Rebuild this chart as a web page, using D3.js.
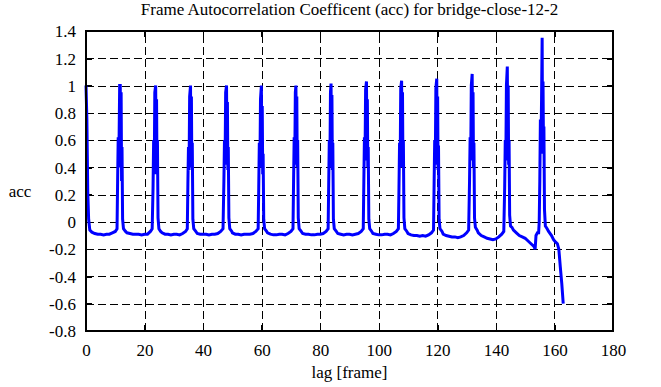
<!DOCTYPE html>
<html>
<head>
<meta charset="utf-8">
<script src="https://cdn.jsdelivr.net/npm/d3@7"></script>
<style>
  body { margin: 0; background: #fff; }
  svg text { font-family: "Liberation Serif", "Times New Roman", serif; fill: #000; }
</style>
</head>
<body>
<div id="chart"></div>
<script>
// lag [frame] and acc values, peak by peak
var lag = [
  0, 0.3, 0.6, 0.9, 1.3, 2, 3, 4, 5, 6, 7, 8, 9, 10, 10.6,
  10.8, 11.0, 11.2, 11.5, 11.7, 11.85, 12.0, 12.15, 12.3, 12.5, 12.8,
  13.5, 14, 15, 16, 17, 18, 19, 20, 21, 22, 22.6,
  22.9, 23.1, 23.3, 23.5, 23.8, 23.95, 24.1, 24.25, 24.4, 24.6, 24.9,
  25.5, 26, 27, 28, 29, 30, 31, 32, 33, 34, 34.6,
  34.8, 35.0, 35.2, 35.4, 35.7, 35.85, 36.0, 36.15, 36.3, 36.5, 36.8,
  37.5, 38, 39, 40, 41, 42, 43, 44, 45, 46, 46.8,
  47.1, 47.3, 47.5, 47.7, 48.0, 48.15, 48.3, 48.45, 48.6, 48.8, 49.1,
  49.8, 50, 51, 52, 53, 54, 55, 56, 57, 58, 58.8,
  59.0, 59.2, 59.4, 59.6, 59.9, 60.05, 60.2, 60.35, 60.5, 60.7, 61.0,
  61.7, 62, 63, 64, 65, 66, 67, 68, 69, 70, 70.7,
  70.9, 71.1, 71.3, 71.5, 71.7, 71.85, 72.0, 72.15, 72.3, 72.5, 72.8,
  73.5, 74, 75, 76, 77, 78, 79, 80, 81, 82, 82.7,
  82.9, 83.1, 83.3, 83.5, 83.7, 83.85, 84.0, 84.15, 84.3, 84.5, 84.8,
  85.5, 86, 87, 88, 89, 90, 91, 92, 93, 94, 94.7,
  94.9, 95.1, 95.3, 95.5, 95.8, 95.95, 96.1, 96.25, 96.4, 96.6, 96.9,
  97.6, 98, 99, 100, 101, 102, 103, 104, 105, 106, 106.7,
  106.9, 107.1, 107.3, 107.5, 107.8, 107.95, 108.1, 108.25, 108.4, 108.6, 108.9,
  109.6, 110, 111, 112, 113, 114, 115, 116, 117, 118, 118.7,
  118.9, 119.1, 119.3, 119.5, 119.8, 119.95, 120.1, 120.25, 120.4, 120.6, 120.9,
  121.6, 122, 123, 124, 125, 126, 127, 128, 129, 130, 130.7,
  131.0, 131.2, 131.4, 131.6, 131.9, 132.05, 132.2, 132.35, 132.5, 132.7, 133.0,
  133.6, 134, 135, 136, 137, 138, 139, 140, 141, 142, 142.7,
  143.0, 143.2, 143.4, 143.6, 143.9, 144.05, 144.2, 144.35, 144.5, 144.7, 145.0,
  145.5, 146, 147, 148, 149, 150, 151, 152, 153, 153.4, 153.7, 154.2, 154.6,
  154.8, 155.0, 155.2, 155.4, 155.6, 155.8, 155.95, 156.1, 156.25, 156.4, 156.6, 156.9,
  157.5, 158, 159, 159.7, 160.5, 161, 161.5, 162, 162.5, 163.0
];
var acc = [
  1.00, 0.75, 0.22, 0.02, -0.06, -0.075, -0.085, -0.09, -0.09, -0.095, -0.09, -0.09, -0.08, -0.07, -0.05,
  0.30, 0.62, 0.40, 1.00, 1.00, 0.50, 0.95, 0.30, 0.55, 0.02, -0.05,
  -0.07, -0.08, -0.085, -0.09, -0.09, -0.09, -0.095, -0.09, -0.09, -0.07, -0.05,
  0.25, 0.60, 0.35, 0.95, 1.00, 0.45, 0.90, 0.35, 0.60, 0.03, -0.05,
  -0.07, -0.08, -0.09, -0.09, -0.095, -0.09, -0.09, -0.095, -0.085, -0.07, -0.05,
  0.28, 0.55, 0.38, 0.92, 1.00, 0.48, 0.92, 0.40, 0.58, 0.02, -0.05,
  -0.07, -0.085, -0.09, -0.09, -0.09, -0.095, -0.09, -0.09, -0.085, -0.07, -0.05,
  0.30, 0.60, 0.42, 0.95, 1.00, 0.52, 0.88, 0.38, 0.55, 0.03, -0.05,
  -0.07, -0.08, -0.09, -0.09, -0.095, -0.09, -0.09, -0.09, -0.085, -0.07, -0.05,
  0.25, 0.58, 0.40, 0.90, 1.00, 0.45, 0.85, 0.35, 0.50, 0.02, -0.05,
  -0.07, -0.08, -0.09, -0.095, -0.095, -0.09, -0.09, -0.095, -0.085, -0.07, -0.05,
  0.30, 0.62, 0.42, 0.95, 1.00, 0.55, 0.92, 0.40, 0.60, 0.03, -0.05,
  -0.07, -0.085, -0.09, -0.09, -0.095, -0.095, -0.09, -0.09, -0.085, -0.07, -0.05,
  0.28, 0.60, 0.40, 0.95, 1.015, 0.50, 0.93, 0.38, 0.58, 0.02, -0.05,
  -0.07, -0.085, -0.09, -0.095, -0.09, -0.09, -0.095, -0.09, -0.085, -0.07, -0.05,
  0.30, 0.62, 0.45, 0.97, 1.03, 0.50, 0.90, 0.40, 0.55, 0.02, -0.05,
  -0.07, -0.085, -0.09, -0.095, -0.095, -0.09, -0.09, -0.095, -0.085, -0.07, -0.05,
  0.25, 0.58, 0.40, 0.98, 1.035, 0.52, 0.95, 0.40, 0.60, 0.03, -0.05,
  -0.07, -0.085, -0.095, -0.10, -0.10, -0.105, -0.10, -0.105, -0.095, -0.08, -0.06,
  0.28, 0.60, 0.42, 0.98, 1.05, 0.50, 0.92, 0.38, 0.56, 0.02, -0.05,
  -0.07, -0.09, -0.10, -0.105, -0.11, -0.11, -0.115, -0.11, -0.10, -0.08, -0.06,
  0.30, 0.62, 0.45, 1.00, 1.085, 0.55, 0.95, 0.40, 0.58, 0.03, -0.04,
  -0.06, -0.08, -0.10, -0.11, -0.12, -0.125, -0.13, -0.125, -0.11, -0.09, -0.07,
  0.25, 0.60, 0.45, 1.00, 1.14, 0.60, 1.00, 0.42, 0.60, 0.05, -0.03,
  -0.04, -0.06, -0.08, -0.10, -0.11, -0.12, -0.14, -0.16, -0.18, -0.20, -0.10, -0.08, -0.08,
  0.00, 0.30, 0.75, 0.55, 0.90, 1.35, 0.50, 1.03, 0.56, 0.70, 0.09, -0.03,
  -0.05, -0.07, -0.10, -0.13, -0.15, -0.16, -0.20, -0.33, -0.45, -0.60
];

var xTicks = [0, 20, 40, 60, 80, 100, 120, 140, 160, 180];
var yTicks = [-0.8, -0.6, -0.4, -0.2, 0, 0.2, 0.4, 0.6, 0.8, 1, 1.2, 1.4];

var titleText = "Frame Autocorrelation Coefficent (acc) for bridge-close-12-2";
var xLabel = "lag [frame]";
var yLabel = "acc";

var W = 661, H = 387;
var margin = {top: 31, right: 48, bottom: 56, left: 86};
var w = W - margin.left - margin.right,
    h = H - margin.top - margin.bottom;

var svg = d3.select("#chart").append("svg")
    .attr("width", W)
    .attr("height", H);

var g = svg.append("g")
    .attr("transform", "translate(" + margin.left + "," + margin.top + ")");

var x = d3.scaleLinear().domain([0, 180]).range([0, w]);
var y = d3.scaleLinear().domain([-0.8, 1.4]).range([h, 0]);

var fmt = function(d) { return String(+d.toFixed(1)); };

// dashed grid
g.append("g").attr("class", "grid")
    .attr("transform", "translate(0," + h + ")")
    .call(d3.axisBottom(x).tickValues(xTicks.slice(1, -1)).tickSize(-h).tickFormat(""));
g.append("g").attr("class", "grid")
    .call(d3.axisLeft(y).tickValues(yTicks.slice(1, -1)).tickSize(-w).tickFormat(""));
g.selectAll(".grid .domain").remove();
g.selectAll(".grid line")
    .attr("stroke", "#000")
    .attr("stroke-width", 1)
    .attr("stroke-dasharray", "8,4")
    .attr("shape-rendering", "crispEdges");

// ticks on all four sides, pointing in
var bottom = g.append("g").attr("transform", "translate(0," + h + ")")
    .call(d3.axisBottom(x).tickValues(xTicks).tickSize(-6).tickPadding(13).tickFormat(fmt));
var left = g.append("g")
    .call(d3.axisLeft(y).tickValues(yTicks).tickSize(-6).tickPadding(10).tickFormat(fmt));
g.append("g").call(d3.axisTop(x).tickValues(xTicks).tickSize(-6).tickFormat(""));
g.append("g").attr("transform", "translate(" + w + ",0)")
    .call(d3.axisRight(y).tickValues(yTicks).tickSize(-6).tickFormat(""));

g.selectAll(".domain").remove();
g.selectAll(".tick line").filter(function() { return !this.parentNode.parentNode.classList.contains("grid"); })
    .attr("stroke", "#000").attr("stroke-width", 1.5).attr("shape-rendering", "crispEdges");
g.selectAll(".tick text")
    .style("font-family", "'Liberation Serif', serif")
    .style("font-size", "17px")
    .attr("fill", "#000");
left.selectAll(".tick text").attr("dy", "0.34em");

// the series
var pts = lag.map(function(d, i) { return [d, acc[i]]; });
var line = d3.line()
    .x(function(d) { return x(d[0]); })
    .y(function(d) { return y(d[1]); });

g.append("path")
    .datum(pts)
    .attr("fill", "none")
    .attr("stroke", "#0000ff")
    .attr("stroke-width", 3)
    .attr("stroke-linejoin", "miter")
    .attr("d", line);

// border
g.append("rect")
    .attr("width", w).attr("height", h)
    .attr("fill", "none")
    .attr("stroke", "#000")
    .attr("stroke-width", 2);

svg.append("text")
    .attr("x", margin.left + w / 2).attr("y", 15)
    .attr("text-anchor", "middle")
    .style("font-size", "17px")
    .text(titleText);

svg.append("text")
    .attr("x", margin.left + w / 2).attr("y", 378)
    .attr("text-anchor", "middle")
    .style("font-size", "17px")
    .text(xLabel);

svg.append("text")
    .attr("x", 20).attr("y", 197)
    .attr("text-anchor", "middle")
    .style("font-size", "17px")
    .text(yLabel);
</script>
</body>
</html>
